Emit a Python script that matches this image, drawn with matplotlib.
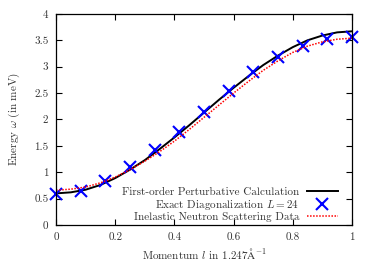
import numpy as np
import matplotlib
matplotlib.use('Agg')
import matplotlib.pyplot as plt

plt.rcParams['font.family'] = 'serif'
plt.rcParams['font.serif'] = ['cmr10', 'DejaVu Serif']
plt.rcParams['mathtext.fontset'] = 'cm'
plt.rcParams['axes.formatter.use_mathtext'] = True
plt.rcParams['font.size'] = 8.0

# momentum grid for the curves
l_curve = [0.00, 0.05, 0.10, 0.15, 0.20, 0.25, 0.30, 0.35, 0.40, 0.45, 0.50,
           0.55, 0.60, 0.65, 0.70, 0.75, 0.80, 0.85, 0.90, 0.95, 1.00]

# first-order perturbative calculation
w_pert = [0.60, 0.62, 0.67, 0.76, 0.89, 1.05, 1.23, 1.44, 1.66, 1.89, 2.13,
          2.37, 2.60, 2.82, 3.03, 3.21, 3.37, 3.50, 3.59, 3.65, 3.67]

# inelastic neutron scattering data
w_ins = [0.66, 0.68, 0.72, 0.80, 0.91, 1.05, 1.21, 1.39, 1.59, 1.81, 2.04,
         2.27, 2.50, 2.72, 2.93, 3.11, 3.27, 3.39, 3.47, 3.52, 3.54]

# exact diagonalization L = 24
l_ed = [0, 1/12, 2/12, 3/12, 4/12, 5/12, 6/12, 7/12, 8/12, 9/12, 10/12, 11/12, 1]
w_ed = [0.59, 0.645, 0.835, 1.10, 1.42, 1.77, 2.15, 2.54, 2.89, 3.18, 3.40, 3.53, 3.57]

xticks = [0, 0.2, 0.4, 0.6, 0.8, 1]
xticklabels = ['0', '0.2', '0.4', '0.6', '0.8', '1']
yticks = [0, 0.5, 1, 1.5, 2, 2.5, 3, 3.5, 4]
yticklabels = ['0', '0.5', '1', '1.5', '2', '2.5', '3', '3.5', '4']

fig = plt.figure(figsize=(3.74, 2.62), dpi=100)
ax = fig.add_axes([0.150, 0.141, 0.791, 0.806])

ax.plot(l_curve, w_pert, color='black', lw=1.4,
        label='First-order Perturbative Calculation')
ax.plot(l_ed, w_ed, 'x', color='#0000ff', ms=9, mew=1.5, clip_on=False,
        label='Exact Diagonalization $L = 24$')
ax.plot(l_curve, w_ins, color='#ff0000', lw=1.1, ls=(0, (1, 1)),
        label='Inelastic Neutron Scattering Data')

ax.set_xlim(0, 1)
ax.set_ylim(0, 4)
ax.set_xticks(xticks)
ax.set_xticklabels(xticklabels)
ax.set_yticks(yticks)
ax.set_yticklabels(yticklabels)
ax.tick_params(direction='in', length=4, width=0.8, top=True, right=True,
               colors='black', labelcolor='#333333', pad=5.5)
for s in ax.spines.values():
    s.set_linewidth(0.9)

ax.set_xlabel(r'Momentum $l$ in 1.247$\mathrm{\AA}^{-1}$', color='#333333', labelpad=3)
ax.set_ylabel(r'Energy $\omega$ (in meV)', color='#333333', labelpad=9)

leg = ax.legend(loc='lower right', bbox_to_anchor=(0.962, 0.0), frameon=False,
                markerfirst=False, handlelength=2.8, handletextpad=0.65,
                labelspacing=0.05, borderaxespad=0.0, borderpad=0.25)
for t in leg.get_texts():
    t.set_color('#333333')

fig.savefig('out.png', dpi=100)
